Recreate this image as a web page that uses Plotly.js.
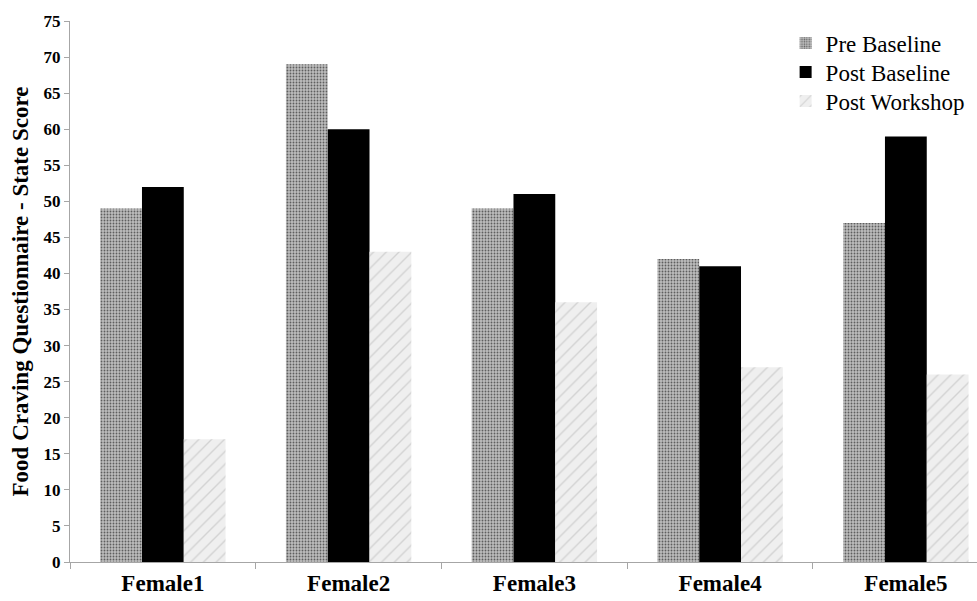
<!DOCTYPE html>
<html>
<head>
<meta charset="utf-8">
<script src="https://cdn.plot.ly/plotly-3.0.1.min.js"></script>
<style>html,body{margin:0;padding:0;background:#fff;}#chart{width:977px;height:601px;}</style>
</head>
<body>
<div id="chart"></div>
<script>
const categories = ["Female1", "Female2", "Female3", "Female4", "Female5"];
const preBaseline = [49, 69, 49, 42, 47];
const postBaseline = [52, 60, 51, 41, 59];
const postWorkshop = [17, 43, 36, 27, 26];
const seriesNames = ["Pre Baseline", "Post Baseline", "Post Workshop"];
const yTicks = [0,5,10,15,20,25,30,35,40,45,50,55,60,65,70,75];

const font = "Liberation Serif, Times New Roman, serif";

const traces = [
  {
    type: "bar", name: seriesNames[0], x: categories, y: preBaseline, legend: "legend",
    marker: {color: "#a8a8a8", line: {width: 0},
      pattern: {shape: ".", fgcolor: "#5e5e5e", bgcolor: "#bdbdbd", size: 3, solidity: 0.3, fillmode: "replace"}}
  },
  {
    type: "bar", name: seriesNames[1], x: categories, y: postBaseline, legend: "legend2",
    marker: {color: "#000000", line: {width: 0}}
  },
  {
    type: "bar", name: seriesNames[2], x: categories, y: postWorkshop, legend: "legend3",
    marker: {color: "#e8e8e8", line: {width: 0},
      pattern: {shape: "/", fgcolor: "#d2d2d2", bgcolor: "#efefef", size: 9, solidity: 0.15, fillmode: "replace"}}
  }
];

function legendAt(y) {
  return {x: 0.789, y: y, xanchor: "left", yanchor: "middle",
    font: {family: font, size: 23, color: "#000"}, bgcolor: "rgba(0,0,0,0)",
    itemwidth: 30};
}

const layout = {
  width: 977, height: 601,
  margin: {l: 70, r: 0, t: 21, b: 39},
  paper_bgcolor: "#ffffff", plot_bgcolor: "#ffffff",
  font: {family: font, color: "#000"},
  barmode: "group",
  bargap: 0.325, bargroupgap: 0,
  showlegend: true,
  legend: legendAt(0.9593),
  legend2: legendAt(0.9057),
  legend3: legendAt(0.8521),
  xaxis: {
    type: "category", range: [-0.5, 4.383], autorange: false,
    showline: true, linecolor: "#a6a6a6", linewidth: 1,
    ticks: "outside", tickson: "boundaries", ticklen: 6, tickcolor: "#a6a6a6",
    showgrid: false, zeroline: false,
    tickfont: {family: font, size: 23, color: "#000", weight: "bold"}
  },
  yaxis: {
    range: [0, 75], autorange: false,
    tickvals: yTicks, ticktext: yTicks.map(String),
    showline: true, linecolor: "#a6a6a6", linewidth: 1,
    ticks: "outside", ticklen: 5, tickcolor: "#a6a6a6",
    showgrid: false, zeroline: false,
    tickfont: {family: font, size: 17, color: "#000", weight: "bold"},
    title: {text: "Food Craving Questionnaire - State Score", standoff: 8,
      font: {family: font, size: 23, color: "#000", weight: "bold"}}
  }
};

Plotly.newPlot("chart", traces, layout, {displayModeBar: false, staticPlot: true});
</script>
</body>
</html>
